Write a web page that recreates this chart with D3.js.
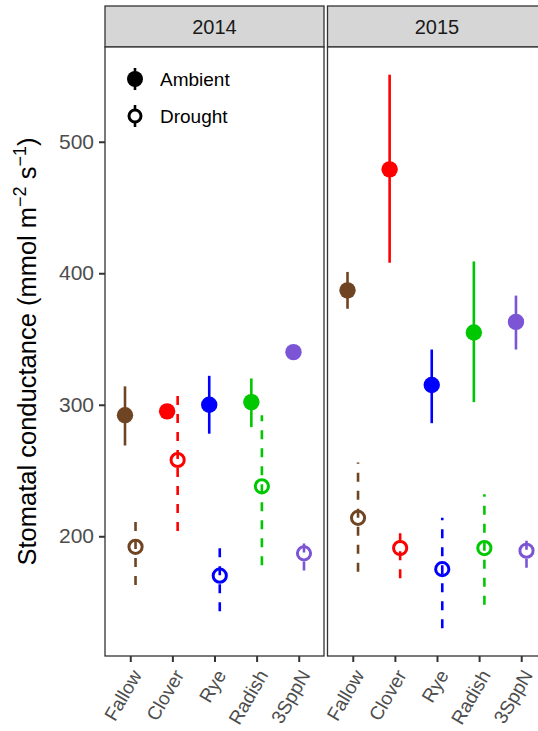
<!DOCTYPE html>
<html>
<head>
<meta charset="utf-8">
<script src="https://cdn.jsdelivr.net/npm/d3@7"></script>
<style>
  body { margin: 0; background: #fff; }
  svg text { font-family: "Liberation Sans", Arial, sans-serif; }
</style>
</head>
<body>
<svg id="chart" width="538" height="731"></svg>
<script>
// Data
var years = ["2014", "2015"];
var crops = ["Fallow", "Clover", "Rye", "Radish", "3SppN"];
var cropColors = ["#6f4422", "#ff0000", "#0000ff", "#00c800", "#7b55d6"];
var treatments = ["Ambient", "Drought"];
var yTicks = [200, 300, 400, 500];

var ambient2014Mean = [292, 295, 300, 302, 340];
var ambient2014Lo   = [269, 290, 278, 283, 337];
var ambient2014Hi   = [314, 300, 322, 320, 343];
var drought2014Mean = [192, 258, 170, 238, 187];
var drought2014Lo   = [163, 204, 143, 178, 174];
var drought2014Hi   = [215, 311, 196, 292, 196];

var ambient2015Mean = [387, 479, 315, 355, 363];
var ambient2015Lo   = [373, 408, 286, 302, 342];
var ambient2015Hi   = [401, 551, 342, 409, 383];
var drought2015Mean = [214, 191, 175, 191, 189];
var drought2015Lo   = [173, 168, 130, 148, 176];
var drought2015Hi   = [256, 206, 214, 232, 198];

// build rows
var rows = [];
function addRows(year, trt, mean, lo, hi) {
  for (var i = 0; i < crops.length; i++) {
    rows.push({ year: year, trt: trt, crop: crops[i], color: cropColors[i], mean: mean[i], lo: lo[i], hi: hi[i] });
  }
}
addRows("2014", "Ambient", ambient2014Mean, ambient2014Lo, ambient2014Hi);
addRows("2014", "Drought", drought2014Mean, drought2014Lo, drought2014Hi);
addRows("2015", "Ambient", ambient2015Mean, ambient2015Lo, ambient2015Hi);
addRows("2015", "Drought", drought2015Mean, drought2015Lo, drought2015Hi);

var svg = d3.select("#chart");

var panelTop = 47, panelBottom = 656, panelW = 219;
var panelLeft = { "2014": 105, "2015": 327.5 };
var stripTop = 6;

// y scale with 5% expansion like ggplot
var yMin = d3.min(rows, function(d) { return d.lo; });
var yMax = d3.max(rows, function(d) { return d.hi; });
var pad = (yMax - yMin) * 0.05;
var y = d3.scaleLinear().domain([yMin - pad, yMax + pad]).range([panelBottom, panelTop]);

var dodge = { "Ambient": -0.125, "Drought": 0.125 };

years.forEach(function(year) {
  var x0 = panelLeft[year];
  var x = d3.scalePoint().domain(crops).range([x0, x0 + panelW]).padding(0.6);
  var step = x.step();

  var g = svg.append("g");

  // strip
  g.append("rect")
    .attr("x", x0).attr("y", stripTop)
    .attr("width", panelW).attr("height", panelTop - stripTop)
    .attr("fill", "#d6d6d6").attr("stroke", "#333").attr("stroke-width", 1.3);
  g.append("text")
    .attr("x", x0 + panelW / 2).attr("y", (stripTop + panelTop) / 2)
    .attr("dy", "0.35em").attr("text-anchor", "middle")
    .attr("font-size", 20).attr("fill", "#1a1a1a")
    .text(year);

  // panel background + border
  g.append("rect")
    .attr("x", x0).attr("y", panelTop)
    .attr("width", panelW).attr("height", panelBottom - panelTop)
    .attr("fill", "#fff").attr("stroke", "#333").attr("stroke-width", 1.3);

  // x axis
  var xAxis = g.append("g")
    .attr("transform", "translate(0," + panelBottom + ")")
    .call(d3.axisBottom(x).tickSize(6).tickSizeOuter(0));
  xAxis.select(".domain").remove();
  xAxis.selectAll(".tick line").attr("stroke", "#333").attr("stroke-width", 2);
  xAxis.selectAll(".tick text")
    .attr("font-size", 19).attr("fill", "#4d4d4d")
    .attr("text-anchor", "end")
    .attr("x", 0).attr("y", 0).attr("dy", "0.71em")
    .attr("transform", "translate(0,12) rotate(-60)");

  var data = rows.filter(function(d) { return d.year == year; });
  var px = function(d) { return x(d.crop) + dodge[d.trt] * step; };

  // error bars
  g.selectAll(".err")
    .data(data)
    .enter().append("line")
    .attr("class", "err")
    .attr("x1", px).attr("x2", px)
    .attr("y1", function(d) { return y(d.lo); })
    .attr("y2", function(d) { return y(d.hi); })
    .attr("stroke", function(d) { return d.color; })
    .attr("stroke-width", 2.6)
    .attr("stroke-dasharray", function(d) { return d.trt == "Drought" ? "9,9" : null; });

  // points
  g.selectAll(".pt")
    .data(data)
    .enter().append("circle")
    .attr("class", "pt")
    .attr("cx", px)
    .attr("cy", function(d) { return y(d.mean); })
    .attr("r", function(d) { return d.trt == "Drought" ? 6.6 : 8.2; })
    .attr("fill", function(d) { return d.trt == "Drought" ? "none" : d.color; })
    .attr("stroke", function(d) { return d.trt == "Drought" ? d.color : "none"; })
    .attr("stroke-width", 3);
});

// y axis on left panel
var yAxis = svg.append("g")
  .attr("transform", "translate(" + panelLeft["2014"] + ",0)")
  .call(d3.axisLeft(y).tickValues(yTicks).tickSize(6).tickPadding(5));
yAxis.select(".domain").remove();
yAxis.selectAll(".tick line").attr("stroke", "#333").attr("stroke-width", 2);
yAxis.selectAll(".tick text").attr("font-size", 21).attr("fill", "#4d4d4d");

// y axis title
var title = svg.append("text")
  .attr("transform", "translate(36," + ((panelTop + panelBottom) / 2) + ") rotate(-90)")
  .attr("text-anchor", "middle")
  .attr("font-size", 25.5).attr("fill", "#000");
title.append("tspan").text("Stomatal conductance (mmol m");
title.append("tspan").attr("font-size", 18).attr("dy", -10).text("\u22122");
title.append("tspan").attr("dy", 10).text(" s");
title.append("tspan").attr("font-size", 18).attr("dy", -10).text("\u22121");
title.append("tspan").attr("dy", 10).text(")");

// legend
var legend = svg.append("g");
treatments.forEach(function(t, i) {
  var cy = 79 + i * 37;
  var lg = legend.append("g");
  lg.append("line")
    .attr("x1", 135).attr("x2", 135)
    .attr("y1", cy - 11).attr("y2", cy + 11)
    .attr("stroke", "#000").attr("stroke-width", 2.6);
  lg.append("circle")
    .attr("cx", 135).attr("cy", cy)
    .attr("r", t == "Drought" ? 6 : 8)
    .attr("fill", t == "Drought" ? "#fff" : "#000")
    .attr("stroke", t == "Drought" ? "#000" : "none")
    .attr("stroke-width", 3);
  lg.append("text")
    .attr("x", 160).attr("y", cy).attr("dy", "0.35em")
    .attr("font-size", 19).attr("fill", "#000")
    .text(t);
});
</script>
</body>
</html>
